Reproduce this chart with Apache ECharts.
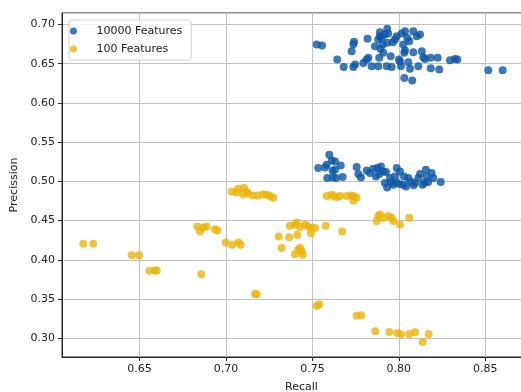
<!DOCTYPE html>
<html>
<head>
<meta charset="utf-8">
<script src="https://cdn.jsdelivr.net/npm/echarts@6/dist/echarts.min.js"></script>
<style>html,body{margin:0;padding:0;background:#fff;}#c{width:521px;height:392px;}</style>
</head>
<body>
<div id="c"></div>
<script>
var seriesNames = ['10000 Features', '100 Features'];
var xTitle = 'Recall';
var yTitle = 'Precission';

// 10000 Features, upper cluster [recall, precision]
var blueTop = [
[0.7525,0.6744],[0.7556,0.6731],[0.7644,0.6552],[0.7681,0.6459],[0.7737,0.6459],[0.7747,0.6489],[0.7741,0.6778],[0.7737,0.6748],[0.7727,0.6658],[0.7795,0.6510],[0.7814,0.6552],[0.7824,0.6574],[0.7843,0.6467],[0.7819,0.6817],[0.7862,0.6722],[0.7881,0.6467],[0.7887,0.6574],[0.7891,0.6901],[0.7891,0.6850],[0.7881,0.6808],[0.7901,0.6829],[0.7920,0.6872],[0.7939,0.6884],[0.7907,0.6744],[0.7895,0.6689],[0.7910,0.6638],[0.7930,0.6467],[0.7933,0.6944],[0.7933,0.6766],[0.7953,0.6595],[0.7959,0.6459],[0.7965,0.6773],[0.7978,0.6808],[0.7988,0.6850],[0.8001,0.6552],[0.8007,0.6531],[0.8017,0.6884],[0.8013,0.6467],[0.8026,0.6744],[0.8032,0.6638],[0.8036,0.6671],[0.8036,0.6914],[0.8032,0.6319],[0.8049,0.6829],[0.8061,0.6786],[0.8055,0.6518],[0.8065,0.6434],[0.8078,0.6284],[0.8084,0.6646],[0.8084,0.6914],[0.8104,0.6850],[0.8123,0.6872],[0.8113,0.6467],[0.8133,0.6658],[0.8152,0.6561],[0.8142,0.6582],[0.8185,0.6574],[0.8185,0.6441],[0.8225,0.6574],[0.8234,0.6425],[0.8296,0.6544],[0.8325,0.6561],[0.8339,0.6552],[0.8518,0.6416],[0.8601,0.6416]
];
// 10000 Features, middle cluster
var blueMid = [
[0.7598,0.5340],[0.7612,0.5267],[0.7631,0.5254],[0.7664,0.5203],[0.7534,0.5170],[0.7573,0.5178],[0.7583,0.5212],[0.7617,0.5136],[0.7631,0.5148],[0.7586,0.5042],[0.7617,0.5050],[0.7637,0.5042],[0.7675,0.5055],[0.7756,0.5183],[0.7766,0.5093],[0.7781,0.5050],[0.7814,0.5139],[0.7833,0.5106],[0.7852,0.5161],[0.7876,0.5170],[0.7897,0.5190],[0.7887,0.5093],[0.7907,0.5127],[0.7926,0.5119],[0.7868,0.5063],[0.7920,0.4979],[0.7933,0.4922],[0.7949,0.5042],[0.7978,0.5063],[0.7988,0.5170],[0.8007,0.5127],[0.7968,0.4957],[0.8003,0.4966],[0.8026,0.4957],[0.8042,0.4935],[0.8055,0.5042],[0.8069,0.4999],[0.8030,0.5063],[0.8094,0.4979],[0.8113,0.5042],[0.8123,0.5093],[0.8138,0.4957],[0.8157,0.5148],[0.8161,0.5063],[0.8171,0.4991],[0.8190,0.5106],[0.8200,0.5042],[0.8243,0.4991],[0.7985,0.4985],[0.8085,0.4950],[0.8150,0.4985],[0.7955,0.4990]
];
// 100 Features
var yellowPts = [
[0.6174,0.4204],[0.6232,0.4204],[0.6454,0.4059],[0.6497,0.4059],[0.6556,0.3859],[0.6589,0.3863],[0.6599,0.3863],[0.6857,0.3817],
[0.6834,0.4425],[0.6850,0.4361],[0.6869,0.4412],[0.6888,0.4425],[0.6936,0.4391],[0.6950,0.4374],
[0.6998,0.4220],[0.7036,0.4191],[0.7071,0.4220],[0.7085,0.4191],
[0.7033,0.4871],[0.7062,0.4859],[0.7071,0.4906],[0.7104,0.4919],[0.7100,0.4833],[0.7120,0.4864],[0.7129,0.4842],[0.7158,0.4820],[0.7187,0.4820],[0.7216,0.4833],[0.7236,0.4829],[0.7255,0.4813],[0.7274,0.4791],
[0.7305,0.4297],[0.7322,0.4149],[0.7366,0.4289],[0.7370,0.4434],[0.7399,0.4446],[0.7409,0.4476],[0.7428,0.4417],[0.7457,0.4446],[0.7476,0.4425],[0.7496,0.4404],[0.7515,0.4404],[0.7413,0.4319],[0.7428,0.4149],[0.7438,0.4105],[0.7399,0.4072],[0.7444,0.4063],[0.7418,0.4127],[0.7492,0.4340],[0.7577,0.4434],[0.7673,0.4361],
[0.7168,0.3565],[0.7178,0.3562],[0.7525,0.3412],[0.7540,0.3434],
[0.7583,0.4813],[0.7612,0.4829],[0.7621,0.4813],[0.7641,0.4800],[0.7660,0.4813],[0.7699,0.4813],[0.7727,0.4820],[0.7737,0.4813],[0.7756,0.4791],[0.7737,0.4753],
[0.7872,0.4494],[0.7881,0.4557],[0.7891,0.4578],[0.7910,0.4536],[0.7939,0.4557],[0.7959,0.4536],[0.7968,0.4494],[0.8007,0.4450],[0.8061,0.4536],
[0.7756,0.3288],[0.7783,0.3294],[0.7864,0.3089],[0.7945,0.3080],[0.7991,0.3068],[0.8013,0.3051],[0.8061,0.3055],[0.8094,0.3077],[0.8138,0.2953],[0.8173,0.3055]
];

var font = 'DejaVu Sans';
var axisCol = '#262626';
var gridCol = '#c2c2c2';
var chart = echarts.init(document.getElementById('c'), null, {renderer: 'canvas'});
chart.setOption({
  animation: false,
  backgroundColor: '#ffffff',
  textStyle: {fontFamily: font},
  grid: {left: 62, top: 13, right: -20, bottom: 35, containLabel: false, outerBoundsMode: 'none',
         show: true, borderColor: axisCol, borderWidth: 1, backgroundColor: 'transparent'},
  legend: {
    orient: 'vertical', left: 69, top: 20,
    data: seriesNames,
    icon: 'circle', itemWidth: 36, itemHeight: 7, itemGap: 4,
    padding: [4, 9, 4, 1],
    borderColor: '#d0d0d0', borderWidth: 1, borderRadius: 3,
    backgroundColor: 'rgba(255,255,255,0.85)',
    textStyle: {fontFamily: font, fontSize: 11, color: '#222', lineHeight: 14}
  },
  xAxis: {
    type: 'value', min: 0.6051, max: 0.8823, splitNumber: 5, minInterval: 0.05, maxInterval: 0.05,
    name: xTitle, nameLocation: 'middle', nameGap: 25,
    nameTextStyle: {fontFamily: font, fontSize: 11, color: '#222'},
    axisLine: {show: true, lineStyle: {color: axisCol, width: 1}},
    axisTick: {show: true, length: 4, lineStyle: {color: axisCol}},
    axisLabel: {fontFamily: font, fontSize: 11, color: '#222', margin: 7, showMinLabel: false, showMaxLabel: false,
      formatter: function (v) { return v.toFixed(2); }},
    splitLine: {show: true, lineStyle: {color: gridCol, width: 1}}
  },
  yAxis: {
    type: 'value', min: 0.2761, max: 0.7146, splitNumber: 8, minInterval: 0.05, maxInterval: 0.05,
    name: yTitle, nameLocation: 'middle', nameGap: 41,
    nameTextStyle: {fontFamily: font, fontSize: 11, color: '#222'},
    axisLine: {show: true, lineStyle: {color: axisCol, width: 1}},
    axisTick: {show: true, length: 4, lineStyle: {color: axisCol}},
    axisLabel: {fontFamily: font, fontSize: 11, color: '#222', margin: 7, showMinLabel: false, showMaxLabel: false,
      formatter: function (v) { return v.toFixed(2); }},
    splitLine: {show: true, lineStyle: {color: gridCol, width: 1}}
  },
  series: [
    {name: seriesNames[0], type: 'scatter', symbolSize: 8, data: blueTop.concat(blueMid),
     itemStyle: {color: '#0b56a4', opacity: 0.8}},
    {name: seriesNames[1], type: 'scatter', symbolSize: 8, data: yellowPts,
     itemStyle: {color: '#ebb40a', opacity: 0.8}}
  ]
});
</script>
</body>
</html>
